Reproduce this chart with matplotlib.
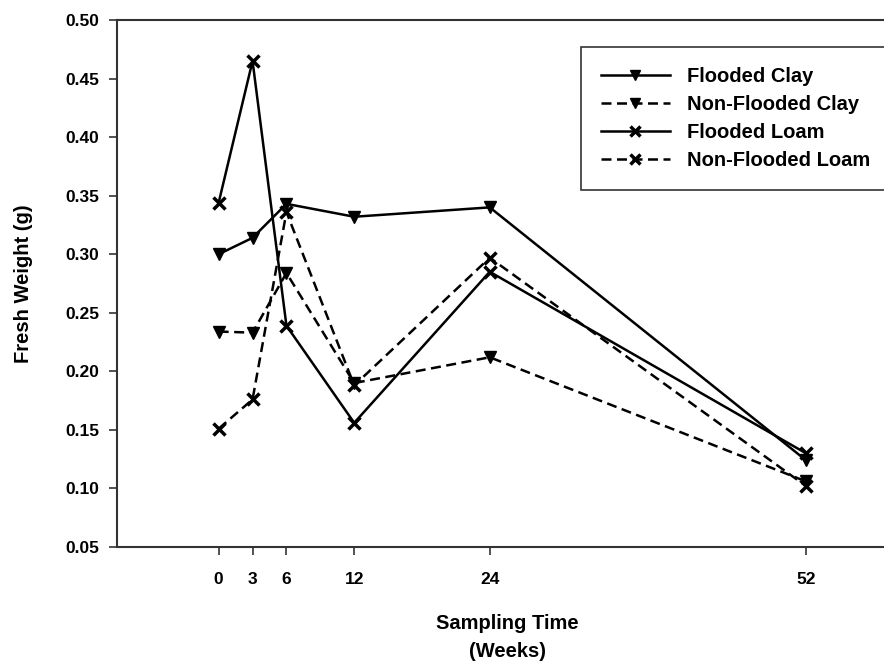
import matplotlib
matplotlib.use("Agg")
import matplotlib.pyplot as plt

plt.rcParams['font.family'] = ['Liberation Sans', 'DejaVu Sans']
plt.rcParams['font.weight'] = 'bold'

# sampling weeks and fresh weights
weeks = [0, 3, 6, 12, 24, 52]
flooded_clay = [0.300, 0.314, 0.343, 0.332, 0.340, 0.124]
nonflooded_clay = [0.234, 0.233, 0.284, 0.190, 0.212, 0.106]
flooded_loam = [0.344, 0.465, 0.239, 0.156, 0.285, 0.130]
nonflooded_loam = [0.151, 0.176, 0.336, 0.188, 0.297, 0.102]

yticks = [0.05, 0.10, 0.15, 0.20, 0.25, 0.30, 0.35, 0.40, 0.45, 0.50]

fig = plt.figure(figsize=(8.84, 6.63), dpi=100)
ax = fig.add_axes([117/884, 116/663, 802/884, 527/663])

dash = (0, (4, 2.2))
lw = 1.8
ax.plot(weeks, flooded_clay, color='black', lw=lw, ls='-', marker='v', ms=9,
        label='Flooded Clay')
ax.plot(weeks, nonflooded_clay, color='black', lw=lw, ls=dash, marker='v', ms=9,
        label='Non-Flooded Clay')
ax.plot(weeks, flooded_loam, color='black', lw=lw, ls='-', marker='x', ms=9, mew=2.5,
        label='Flooded Loam')
ax.plot(weeks, nonflooded_loam, color='black', lw=lw, ls=dash, marker='x', ms=9, mew=2.5,
        label='Non-Flooded Loam')

ax.set_xlim(-9, 62)
ax.set_ylim(0.05, 0.50)
ax.set_xticks(weeks)
ax.set_xticklabels([str(w) for w in weeks])
ax.set_yticks(yticks)
ax.set_yticklabels([f"{v:.2f}" for v in yticks])

for s in ax.spines.values():
    s.set_color('#333333')
    s.set_linewidth(1.5)
ax.tick_params(direction='out', length=6, width=1.2, color='#333333',
               labelsize=12.5, pad=7)
ax.tick_params(axis='x', pad=12)
for lab in ax.get_xticklabels() + ax.get_yticklabels():
    lab.set_fontweight('bold')

ax.set_ylabel('Fresh Weight (g)', fontsize=14.5, fontweight='bold')
ax.yaxis.set_label_coords(-0.105, 0.5)
ax.set_xlabel('Sampling Time\n(Weeks)', fontsize=14.5, fontweight='bold',
              linespacing=1.6)
ax.xaxis.set_label_coords((507-117)/802, -0.128)
ax.xaxis.label.set_verticalalignment('top')

leg = ax.legend(loc='upper left', bbox_to_anchor=((581-117)/802, (663-116-47)/527 + 0.0),
                frameon=True, fancybox=False, handlelength=3.4,
                borderpad=1.0, labelspacing=0.45, handletextpad=0.85,
                borderaxespad=0.0, markerscale=0.85,
                prop={'weight': 'bold', 'size': 14.5})
leg.get_frame().set_edgecolor('black')
leg.get_frame().set_linewidth(1.2)

fig.savefig('out.png', dpi=100)
